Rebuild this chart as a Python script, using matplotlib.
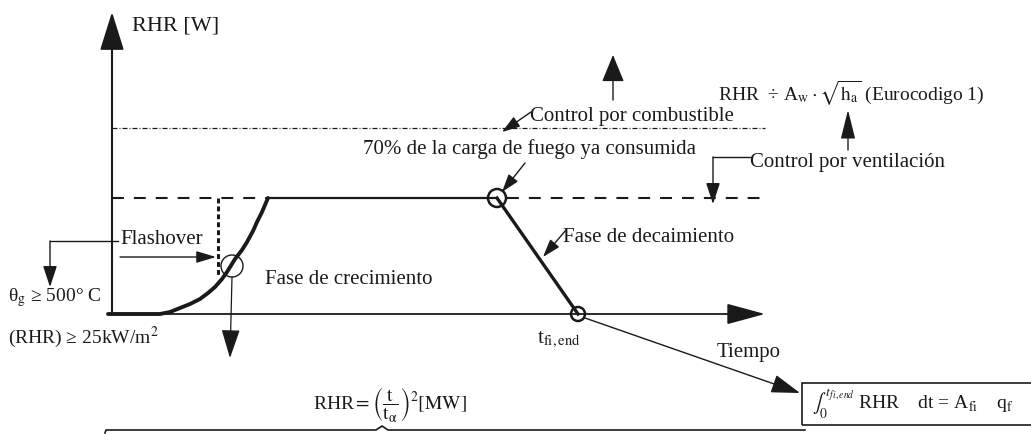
import matplotlib
matplotlib.use("Agg")
import matplotlib.pyplot as plt
from matplotlib.patches import FancyArrowPatch, Circle, Rectangle

plt.rcParams['font.family'] = ['Liberation Serif', 'DejaVu Serif']
plt.rcParams['mathtext.fontset'] = 'stix'

# ---- data (schematic units: time t, heat release rate RHR) ----
growth_t = [-0.04, 0.48, 0.58, 0.68, 0.78, 0.88, 0.96, 1.03, 1.10, 1.15, 1.23, 1.30, 1.35, 1.41, 1.45, 1.50, 1.53, 1.56]
growth_rhr = [0.0, 0.0, 0.02, 0.06, 0.10, 0.15, 0.21, 0.27, 0.35, 0.42, 0.55, 0.64, 0.72, 0.83, 0.92, 1.02, 1.09, 1.16]
plateau_t = [1.56, 3.85]
plateau_rhr = [1.16, 1.16]
decay_t = [3.85, 4.66]
decay_rhr = [1.16, 0.0]
fuel_control_rhr = 1.86
vent_control_rhr = 1.16
flashover_t = 1.06
flashover_circle = (1.20, 0.48)
t_end = 4.66
t_axis_max = 6.53
rhr_axis_max = 3.02

# pixel -> data helper for layout of annotations
def P(px, py):
    return ((px - 112) / 100.0, (314 - py) / 100.0)

fig = plt.figure(figsize=(10.31, 4.34), dpi=100)
ax = fig.add_axes([0, 0, 1, 1])
ax.set_xlim(-1.12, 9.19)
ax.set_ylim(-1.20, 3.14)
ax.axis('off')

def arrow(p0, p1, hl, hw, lw=1.2):
    a = FancyArrowPatch(p0, p1, arrowstyle=f"-|>,head_length={hl},head_width={hw}",
                        mutation_scale=1, shrinkA=0, shrinkB=0, color='#1a1a1a', lw=lw)
    ax.add_patch(a)

k = '#1a1a1a'
# axes
arrow((0, 0), (0, rhr_axis_max), 24, 7.5, lw=1.5)
arrow((-0.04, 0), (t_axis_max, 0), 24, 6.5, lw=1.3)

# control lines
ax.plot([0, t_axis_max], [fuel_control_rhr, fuel_control_rhr], color=k, lw=0.9,
        linestyle=(0, (4, 1.6, 0.8, 1.6)))
ax.plot([0, growth_t[-1]], [vent_control_rhr, vent_control_rhr], color=k, lw=1.5,
        linestyle=(0, (5.7, 4.8)))
ax.plot([decay_t[0] + 0.1, t_axis_max], [vent_control_rhr, vent_control_rhr], color=k, lw=1.5,
        linestyle=(0, (5.7, 4.8)))
ax.plot([flashover_t, flashover_t], [vent_control_rhr, P(0, 275)[1]], color=k, lw=2.2,
        linestyle=(0, (1.6, 1.0)))

# fire curve
ax.plot(growth_t, growth_rhr, color=k, lw=2.8, solid_capstyle='round')
ax.plot(plateau_t, plateau_rhr, color=k, lw=1.6)
ax.plot(decay_t, decay_rhr, color=k, lw=2.4)

# circles
ax.add_patch(Circle(flashover_circle, 0.11, fill=False, ec=k, lw=1.0))
ax.add_patch(Circle((decay_t[0], decay_rhr[0]), 0.09, fill=False, ec=k, lw=1.8))
ax.add_patch(Circle((t_end, 0), 0.07, fill=False, ec=k, lw=1.8))

# arrows and brackets
ax.plot(*zip(P(118, 241), P(50, 241)), color=k, lw=1.0)
arrow(P(50, 241), P(50, 287), 13, 4.3, lw=1.0)
arrow(P(120, 257), P(216, 257), 12, 3.6, lw=1.0)
arrow((flashover_circle[0], flashover_circle[1] - 0.11), P(230, 358), 18, 5.8, lw=0.9)
arrow(P(613, 100), P(613, 55), 17, 7, lw=1.0)
arrow(P(848, 150), P(848, 110), 18, 4.5, lw=1.0)
arrow(P(531, 112), P(502, 132), 11, 3.6, lw=1.0)
arrow(P(525, 163), P(502, 192), 11, 3.6, lw=1.0)
ax.plot(*zip(P(751, 157), P(713, 157)), color=k, lw=1.0)
arrow(P(713, 157), P(713, 204), 13, 4.3, lw=1.0)
arrow(P(566, 230), P(543, 257), 11, 3.6, lw=1.0)
arrow(P(585, 318), P(800, 393), 18, 5.8, lw=1.0)

# bottom brace line
bx, by = zip(P(105, 433), P(106, 430), P(376, 430), P(382, 426), P(388, 430), P(805, 430))
ax.plot(bx, by, color=k, lw=1.2)

# box
x0, y0 = P(802, 425)
x1, y1 = P(1040, 383)
ax.add_patch(Rectangle((x0, y0), x1 - x0, y1 - y0, fill=False, ec=k, lw=1.2))

fs = 15
def txt(px, py, s, size=fs, **kw):
    x, y = P(px, py)
    ax.text(x, y, s, fontsize=size, ha='left', va='center', color=k, **kw)

txt(132, 26, "RHR [W]", size=16)
txt(530, 117, "Control por combustible")
txt(718, 93, r"RHR  ÷ A$_{\mathrm{w}}\cdot\sqrt{\mathrm{h_a}}$ (Eurocodigo 1)", size=14)
txt(363, 149, "70% de la carga de fuego ya consumida")
txt(750, 163, "Control por ventilación")
txt(120, 240, "Flashover")
txt(265, 280, "Fase de crecimiento")
txt(563, 237, "Fase de decaimiento")
txt(8, 298, r"θ$_{\mathrm{g}}$ ≥ 500° C", size=14)
txt(8, 337, r"(RHR) ≥ 25kW/m$^{2}$", size=14)
txt(537, 340, r"t$_{\mathrm{fi,end}}$")
txt(717, 352, "Tiempo")
txt(313, 405, r"RHR$=\left(\dfrac{\mathrm{t}}{\mathrm{t_{\alpha}}}\right)^{2}\left[\mathrm{MW}\right]$", size=14)
txt(812, 404, r"$\int_{0}^{t_{fi,end}}$ RHR    dt = A$_{\mathrm{fi}}$    q$_{\mathrm{f}}$", size=14)

fig.savefig("out.png", dpi=100)
